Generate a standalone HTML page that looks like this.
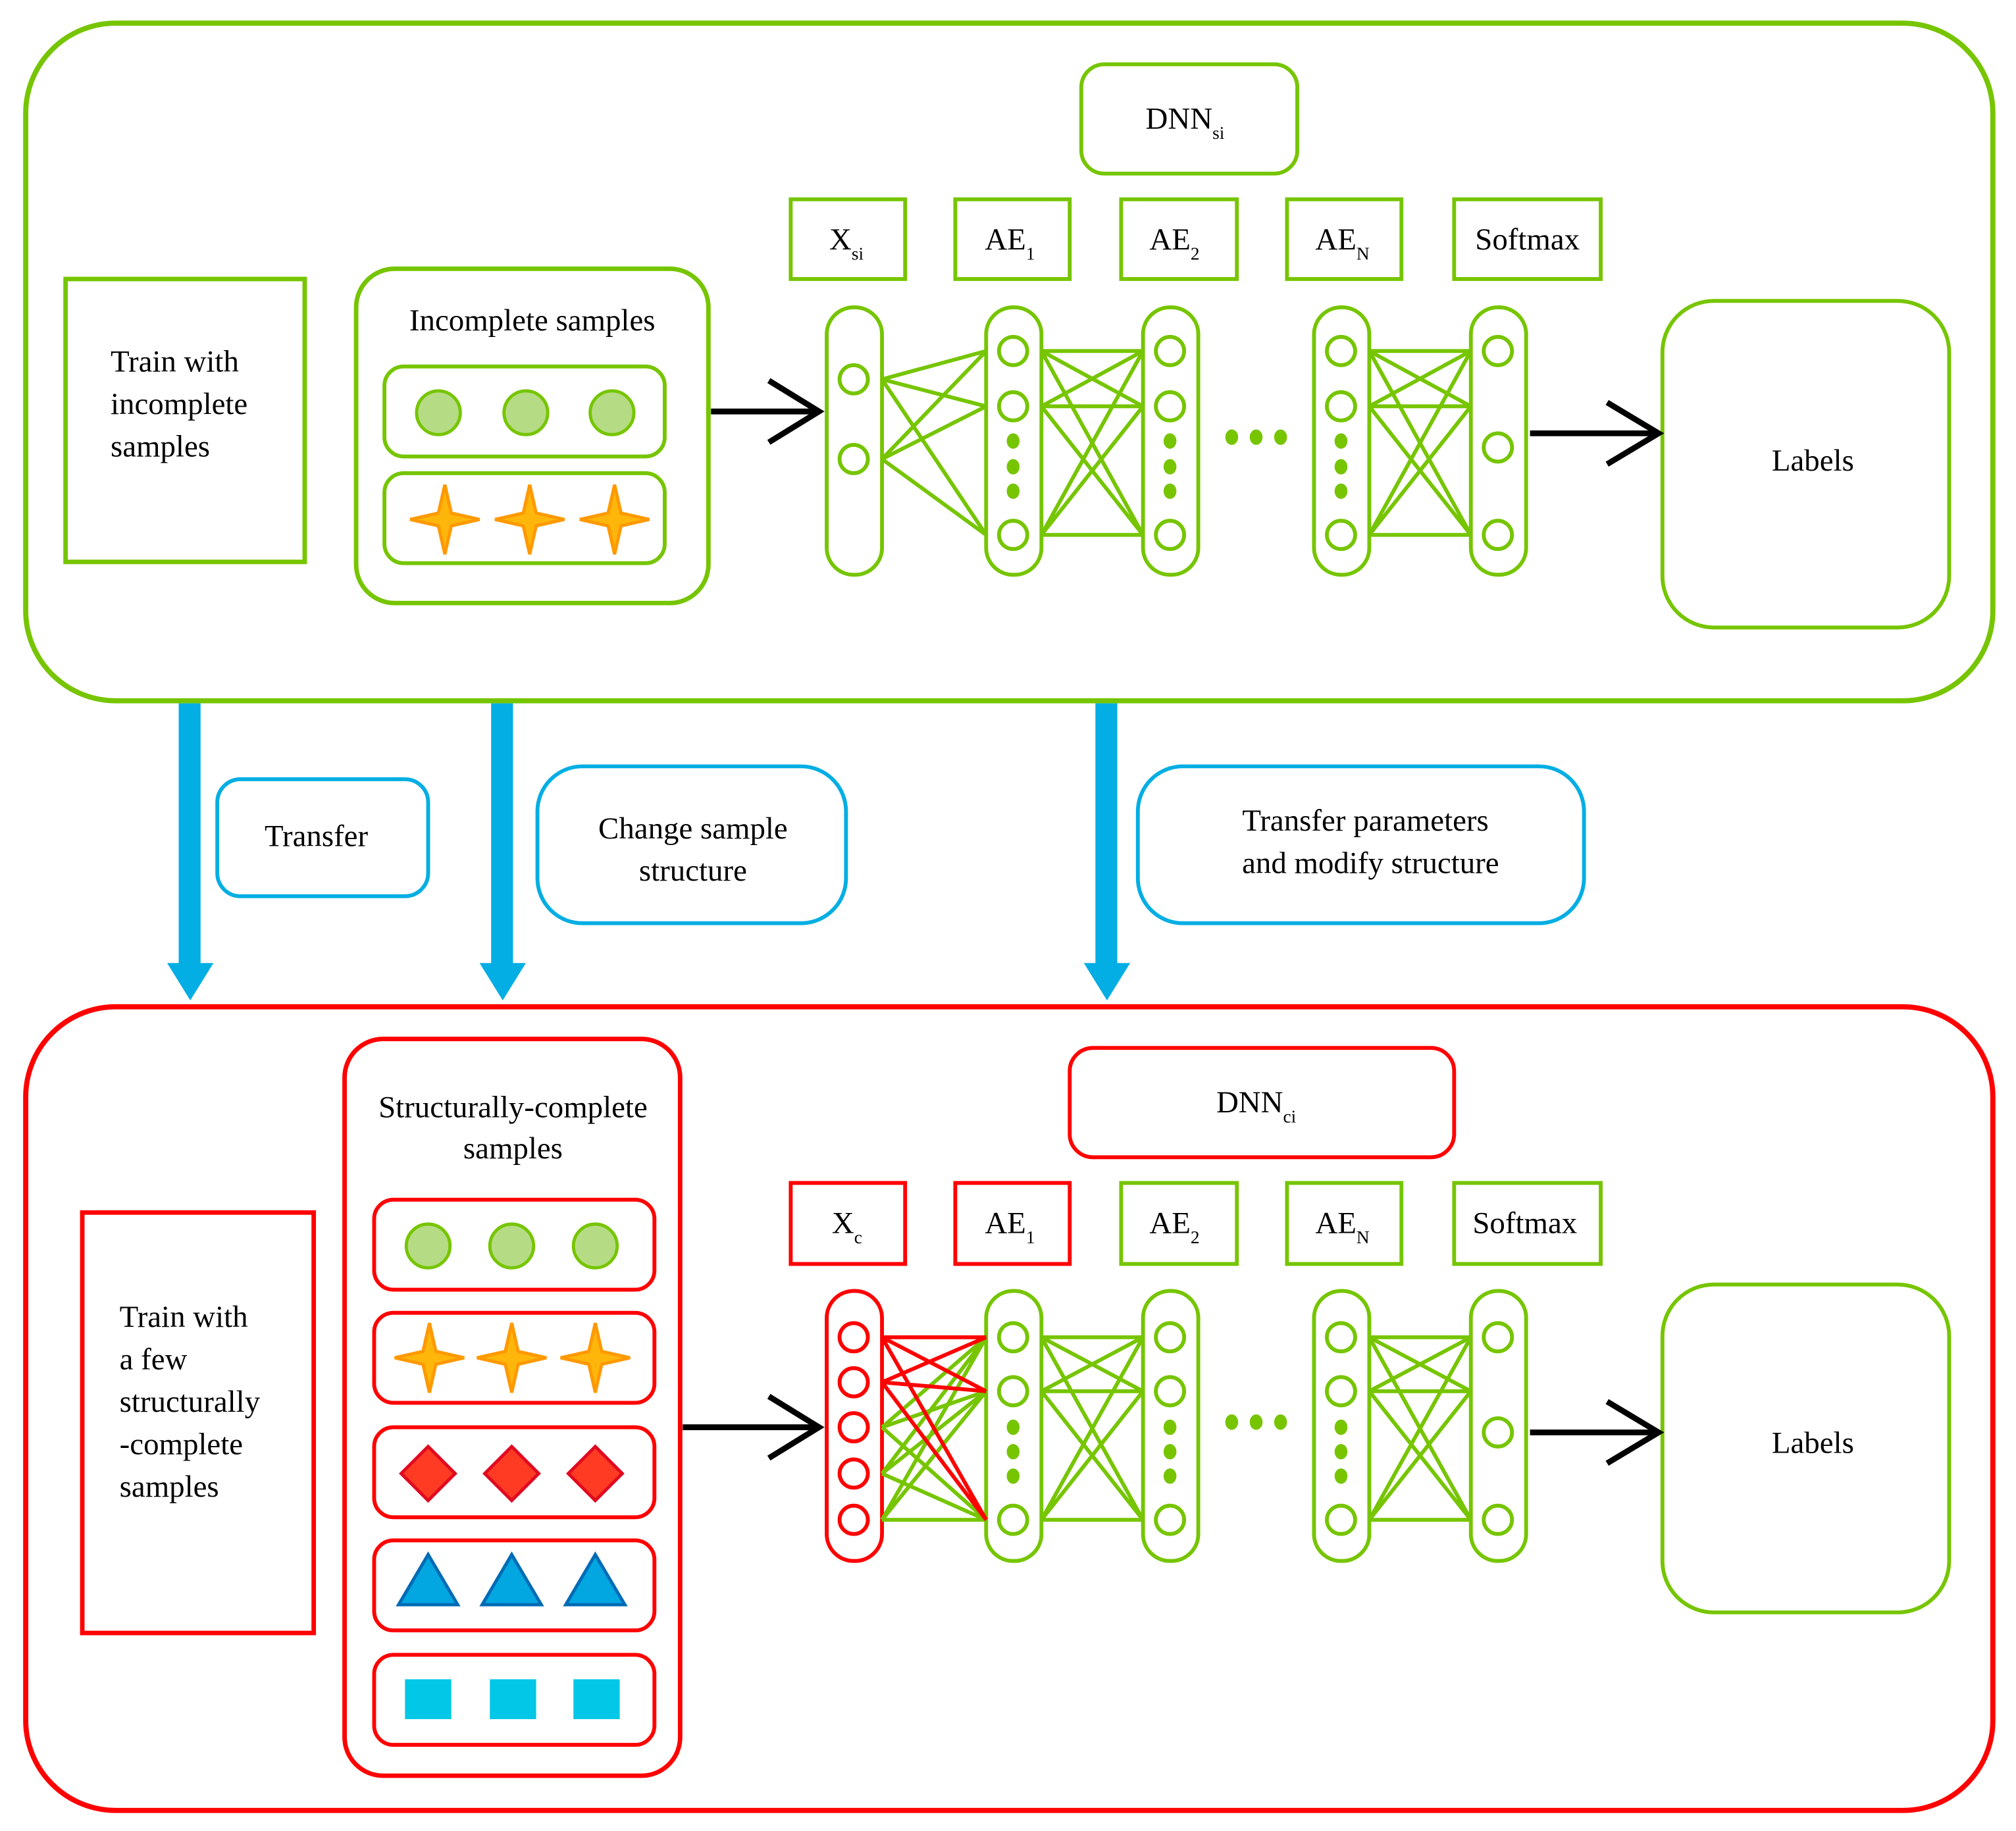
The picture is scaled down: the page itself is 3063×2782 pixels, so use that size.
<!DOCTYPE html>
<html><head><meta charset="utf-8"><style>html,body{margin:0;padding:0;background:#fff}svg{display:block}svg text{font-family:"Liberation Serif","DejaVu Serif",serif;}</style></head><body>
<svg xmlns="http://www.w3.org/2000/svg" width="3063" height="2782" viewBox="0 0 1568 1424" preserveAspectRatio="none" style="font-family:'Liberation Serif',serif" font-size="24">
<defs>
<g id="star"><path d="M0,-27 L5,-5 L27,0 L5,5 L0,27 L-5,5 L-27,0 L-5,-5 Z" fill="#ffb60b" stroke="#ff9900" stroke-width="2.5" stroke-linejoin="miter"/></g>
<g id="circ"><circle r="17" fill="#b5dc85" stroke="#76c500" stroke-width="2.5"/></g>
<g id="dia"><path d="M0,-21 L21,0 L0,21 L-21,0 Z" fill="#ff3b23" stroke="#e00a20" stroke-width="2.5"/></g>
<g id="tri"><path d="M0,-22 L23,17 L-23,17 Z" fill="#02a6e0" stroke="#006bb5" stroke-width="2.5"/></g>
</defs>
<rect width="1568" height="1424" fill="#fff"/>

<!-- TOP -->
<rect x="20" y="18" width="1530" height="527" rx="70" fill="none" stroke="#76c500" stroke-width="4"/>
<rect x="51" y="217" width="186" height="220" fill="none" stroke="#76c500" stroke-width="3.5"/>
<text x="86" y="289">Train with</text><text x="86" y="322">incomplete</text><text x="86" y="355">samples</text>
<rect x="277" y="209" width="274" height="260" rx="30" fill="none" stroke="#76c500" stroke-width="3.5"/>
<text x="414" y="257" text-anchor="middle">Incomplete samples</text>
<rect x="299" y="285" width="218" height="70" rx="15" fill="none" stroke="#76c500" stroke-width="3"/>
<rect x="299" y="368" width="218" height="70" rx="15" fill="none" stroke="#76c500" stroke-width="3"/>
<use href="#circ" x="341" y="321"/><use href="#circ" x="409" y="321"/><use href="#circ" x="476" y="321"/>
<use href="#star" x="346" y="404"/><use href="#star" x="412" y="404"/><use href="#star" x="478" y="404"/>
<g stroke="#000" stroke-width="4.5" fill="none"><line x1="553" y1="320" x2="636" y2="320"/><polyline points="598,296 637,320 598,344"/></g>

<g fill="none" stroke="#76c500" stroke-width="3">
<rect x="841" y="50" width="168" height="85" rx="18"/>
<rect x="615" y="155" width="89" height="62"/><rect x="743" y="155" width="89" height="62"/><rect x="872" y="155" width="90" height="62"/><rect x="1001" y="155" width="89" height="62"/><rect x="1131" y="155" width="114" height="62"/>
<rect x="643" y="239" width="43" height="208" rx="21"/><rect x="767" y="239" width="43" height="208" rx="21"/><rect x="889" y="239" width="43" height="208" rx="21"/><rect x="1022" y="239" width="43" height="208" rx="21"/><rect x="1144" y="239" width="43" height="208" rx="21"/>
<circle cx="664" cy="295" r="11"/><circle cx="664" cy="357" r="11"/>
<circle cx="788" cy="273" r="11"/><circle cx="788" cy="316" r="11"/><circle cx="788" cy="416" r="11"/>
<circle cx="910" cy="273" r="11"/><circle cx="910" cy="316" r="11"/><circle cx="910" cy="416" r="11"/>
<circle cx="1043" cy="273" r="11"/><circle cx="1043" cy="316" r="11"/><circle cx="1043" cy="416" r="11"/>
<circle cx="1165" cy="273" r="11"/><circle cx="1165" cy="348" r="11"/><circle cx="1165" cy="416" r="11"/>
<rect x="1293" y="234" width="223" height="254" rx="40"/>
<path d="M686,295L767,273M686,295L767,316M686,295L767,416M686,357L767,273M686,357L767,316M686,357L767,416"/>
<path d="M810,273L889,273M810,273L889,316M810,273L889,416M810,316L889,273M810,316L889,316M810,316L889,416M810,416L889,273M810,416L889,316M810,416L889,416"/>
<path d="M1065,273L1144,273M1065,273L1144,316M1065,273L1144,416M1065,316L1144,273M1065,316L1144,316M1065,316L1144,416M1065,416L1144,273M1065,416L1144,316M1065,416L1144,416"/>
</g>
<g fill="#76c500">
<ellipse cx="788" cy="343" rx="5" ry="6"/><ellipse cx="788" cy="363" rx="5" ry="6"/><ellipse cx="788" cy="382" rx="5" ry="6"/>
<ellipse cx="910" cy="343" rx="5" ry="6"/><ellipse cx="910" cy="363" rx="5" ry="6"/><ellipse cx="910" cy="382" rx="5" ry="6"/>
<ellipse cx="1043" cy="343" rx="5" ry="6"/><ellipse cx="1043" cy="363" rx="5" ry="6"/><ellipse cx="1043" cy="382" rx="5" ry="6"/>
<ellipse cx="958" cy="340" rx="5" ry="6"/><ellipse cx="977" cy="340" rx="5" ry="6"/><ellipse cx="996" cy="340" rx="5" ry="6"/>
</g>
<text x="891" y="100">DNN<tspan font-size="14" dy="8">si</tspan></text>
<text x="645" y="194">X<tspan font-size="14" dy="8">si</tspan></text>
<text x="766" y="194">AE<tspan font-size="14" dy="8">1</tspan></text>
<text x="894" y="194">AE<tspan font-size="14" dy="8">2</tspan></text>
<text x="1023" y="194">AE<tspan font-size="14" dy="8">N</tspan></text>
<text x="1188" y="194" text-anchor="middle">Softmax</text>
<g stroke="#000" stroke-width="4.5" fill="none"><line x1="1190" y1="337" x2="1289" y2="337"/><polyline points="1250,313 1290,337 1250,361"/></g>
<text x="1410" y="366" text-anchor="middle">Labels</text>

<!-- BLUE ARROWS -->
<g fill="#02aee3">
<rect x="139" y="547" width="17" height="203"/><path d="M130,749 L166,749 L148,778 Z"/>
<rect x="382" y="547" width="17" height="203"/><path d="M373,749 L409,749 L391,778 Z"/>
<rect x="852" y="547" width="17" height="203"/><path d="M843,749 L879,749 L861,778 Z"/>
</g>
<g fill="none" stroke="#02aee3" stroke-width="3">
<rect x="169" y="606" width="164" height="91" rx="18"/>
<rect x="418" y="596" width="240" height="122" rx="35"/>
<rect x="885" y="596" width="347" height="122" rx="35"/>
</g>
<text x="246" y="658" text-anchor="middle">Transfer</text>
<text x="539" y="652" text-anchor="middle">Change sample</text><text x="539" y="685" text-anchor="middle">structure</text>
<text x="1062" y="646" text-anchor="middle">Transfer parameters</text><text x="1066" y="679" text-anchor="middle">and modify structure</text>

<!-- BOTTOM -->
<rect x="20" y="783" width="1530" height="625" rx="70" fill="none" stroke="#ff0000" stroke-width="4"/>
<rect x="64" y="943" width="180" height="327" fill="none" stroke="#ff0000" stroke-width="3.5"/>
<text x="93" y="1032">Train with</text><text x="93" y="1065">a few</text><text x="93" y="1098">structurally</text><text x="93" y="1131">-complete</text><text x="93" y="1164">samples</text>
<rect x="268" y="808" width="261" height="573" rx="30" fill="none" stroke="#ff0000" stroke-width="3.5"/>
<text x="399" y="869" text-anchor="middle">Structurally-complete</text><text x="399" y="901" text-anchor="middle">samples</text>
<g fill="none" stroke="#ff0000" stroke-width="3">
<rect x="291" y="933" width="218" height="70" rx="15"/><rect x="291" y="1021" width="218" height="70" rx="15"/><rect x="291" y="1110" width="218" height="70" rx="15"/><rect x="291" y="1198" width="218" height="70" rx="15"/><rect x="291" y="1287" width="218" height="70" rx="15"/>
</g>
<use href="#circ" x="333" y="969"/><use href="#circ" x="398" y="969"/><use href="#circ" x="463" y="969"/>
<use href="#star" x="334" y="1056"/><use href="#star" x="398" y="1056"/><use href="#star" x="463" y="1056"/>
<use href="#dia" x="333" y="1146"/><use href="#dia" x="398" y="1146"/><use href="#dia" x="463" y="1146"/>
<use href="#tri" x="333" y="1231"/><use href="#tri" x="398" y="1231"/><use href="#tri" x="463" y="1231"/>
<g fill="#02c7e6"><rect x="315" y="1306" width="36" height="31"/><rect x="381" y="1306" width="36" height="31"/><rect x="446" y="1306" width="36" height="31"/></g>
<g stroke="#000" stroke-width="4.5" fill="none"><line x1="531" y1="1110" x2="636" y2="1110"/><polyline points="598,1086 637,1110 598,1134"/></g>

<g fill="none" stroke="#ff0000" stroke-width="3">
<rect x="832" y="815" width="299" height="85" rx="18"/>
<rect x="615" y="920" width="89" height="63"/><rect x="743" y="920" width="89" height="63"/>
<rect x="643" y="1004" width="43" height="210" rx="21"/>
<circle cx="664" cy="1040" r="11"/><circle cx="664" cy="1075" r="11"/><circle cx="664" cy="1110" r="11"/><circle cx="664" cy="1146" r="11"/><circle cx="664" cy="1182" r="11"/>
</g>
<g fill="none" stroke="#76c500" stroke-width="3">
<rect x="872" y="920" width="90" height="63"/><rect x="1001" y="920" width="89" height="63"/><rect x="1131" y="920" width="114" height="63"/>
<rect x="767" y="1004" width="43" height="210" rx="21"/><rect x="889" y="1004" width="43" height="210" rx="21"/><rect x="1022" y="1004" width="43" height="210" rx="21"/><rect x="1144" y="1004" width="43" height="210" rx="21"/>
<circle cx="788" cy="1040" r="11"/><circle cx="788" cy="1082" r="11"/><circle cx="788" cy="1182" r="11"/>
<circle cx="910" cy="1040" r="11"/><circle cx="910" cy="1082" r="11"/><circle cx="910" cy="1182" r="11"/>
<circle cx="1043" cy="1040" r="11"/><circle cx="1043" cy="1082" r="11"/><circle cx="1043" cy="1182" r="11"/>
<circle cx="1165" cy="1040" r="11"/><circle cx="1165" cy="1114" r="11"/><circle cx="1165" cy="1182" r="11"/>
<rect x="1293" y="999" width="223" height="255" rx="40"/>
<path d="M686,1110L767,1040M686,1110L767,1082M686,1110L767,1182M686,1146L767,1040M686,1146L767,1082M686,1146L767,1182M686,1182L767,1040M686,1182L767,1082M686,1182L767,1182"/>
<path d="M810,1040L889,1040M810,1040L889,1082M810,1040L889,1182M810,1082L889,1040M810,1082L889,1082M810,1082L889,1182M810,1182L889,1040M810,1182L889,1082M810,1182L889,1182"/>
<path d="M1065,1040L1144,1040M1065,1040L1144,1082M1065,1040L1144,1182M1065,1082L1144,1040M1065,1082L1144,1082M1065,1082L1144,1182M1065,1182L1144,1040M1065,1182L1144,1082M1065,1182L1144,1182"/>
</g>
<g fill="none" stroke="#ff0000" stroke-width="3">
<path d="M686,1040L767,1040M686,1040L767,1082M686,1040L767,1182M686,1075L767,1040M686,1075L767,1082M686,1075L767,1182"/>
</g>
<g fill="#76c500">
<ellipse cx="788" cy="1110" rx="5" ry="6"/><ellipse cx="788" cy="1129" rx="5" ry="6"/><ellipse cx="788" cy="1148" rx="5" ry="6"/>
<ellipse cx="910" cy="1110" rx="5" ry="6"/><ellipse cx="910" cy="1129" rx="5" ry="6"/><ellipse cx="910" cy="1148" rx="5" ry="6"/>
<ellipse cx="1043" cy="1110" rx="5" ry="6"/><ellipse cx="1043" cy="1129" rx="5" ry="6"/><ellipse cx="1043" cy="1148" rx="5" ry="6"/>
<ellipse cx="958" cy="1106" rx="5" ry="6"/><ellipse cx="977" cy="1106" rx="5" ry="6"/><ellipse cx="996" cy="1106" rx="5" ry="6"/>
</g>
<text x="946" y="865">DNN<tspan font-size="14" dy="8">ci</tspan></text>
<text x="647" y="959">X<tspan font-size="14" dy="8">c</tspan></text>
<text x="766" y="959">AE<tspan font-size="14" dy="8">1</tspan></text>
<text x="894" y="959">AE<tspan font-size="14" dy="8">2</tspan></text>
<text x="1023" y="959">AE<tspan font-size="14" dy="8">N</tspan></text>
<text x="1186" y="959" text-anchor="middle">Softmax</text>
<g stroke="#000" stroke-width="4.5" fill="none"><line x1="1190" y1="1114" x2="1289" y2="1114"/><polyline points="1250,1090 1290,1114 1250,1138"/></g>
<text x="1410" y="1130" text-anchor="middle">Labels</text>
</svg>
</body></html>
